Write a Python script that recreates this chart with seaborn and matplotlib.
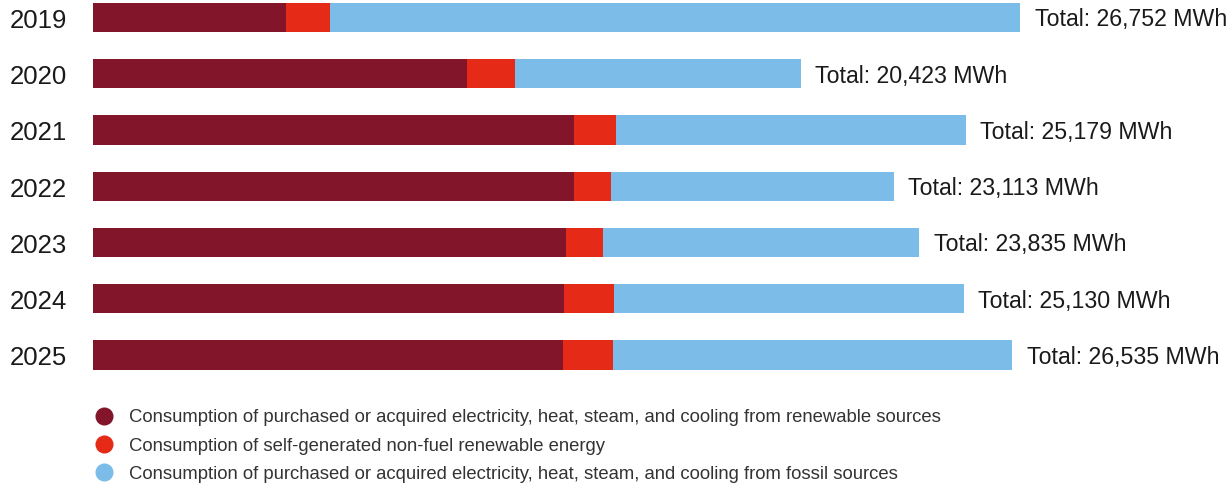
import matplotlib
matplotlib.use("Agg")
import matplotlib.pyplot as plt
from matplotlib.lines import Line2D
import seaborn as sns
import numpy as np
import pandas as pd

years = ["2019", "2020", "2021", "2022", "2023", "2024", "2025"]
renewable_purchased = [5570, 10793, 13881, 13881, 13650, 13592, 13563]
self_generated = [1270, 1385, 1212, 1068, 1068, 1443, 1443]
fossil_purchased = [19912, 8245, 10086, 8164, 9117, 10095, 11529]
totals = [26752, 20423, 25179, 23113, 23835, 25130, 26535]

legend_labels = [
    "Consumption of purchased or acquired electricity, heat, steam, and cooling from renewable sources",
    "Consumption of self-generated non-fuel renewable energy",
    "Consumption of purchased or acquired electricity, heat, steam, and cooling from fossil sources",
]

c_dark = "#83152B"
c_red = "#E52A17"
c_blue = "#7BBCE8"

sns.set_theme(style="white")
plt.rcParams["font.family"] = ["Liberation Sans", "DejaVu Sans"]

df = pd.DataFrame({
    "year": years,
    "renew": renewable_purchased,
    "self": self_generated,
    "fossil": fossil_purchased,
})
df["cum2"] = df["renew"] + df["self"]
df["cum3"] = df["cum2"] + df["fossil"]

fig = plt.figure(figsize=(12.31, 4.88), dpi=100)
W, H = 1231, 488
ax = fig.add_axes([93 / W, 1 - 373 / H, (W - 93) / W, 373 / H])

# stacked horizontal bars: cumulative totals drawn back to front
bw = 0.516
sns.barplot(data=df, x="cum3", y="year", orient="h", color=c_blue, width=bw,
            saturation=1, ax=ax)
sns.barplot(data=df, x="cum2", y="year", orient="h", color=c_red, width=bw,
            saturation=1, ax=ax)
sns.barplot(data=df, x="renew", y="year", orient="h", color=c_dark, width=bw,
            saturation=1, ax=ax)
for p in ax.patches:
    p.set_linewidth(0)

ax.set_xlim(0, 1138 / 0.034652)
ax.set_ylim(6.32, -0.311)
ax.set_xlabel("")
ax.set_ylabel("")
ax.set_xticks([])
ax.set_yticks([])
sns.despine(ax=ax, left=True, bottom=True, top=True, right=True)

for i, (yr, tot) in enumerate(zip(years, totals)):
    ax.annotate(f"Total: {tot:,} MWh", xy=(df["cum3"][i], i), xytext=(10.5, -6.4),
                textcoords="offset points", va="baseline", ha="left",
                fontsize=16.7, color="#1a1a1a")
    ax.annotate(yr, xy=(0, i), xytext=(-83 * 0.72, -7.4), textcoords="offset points",
                va="baseline", ha="left", fontsize=18.5, color="#1a1a1a",
                annotation_clip=False)

handles = [Line2D([0], [0], marker="o", linestyle="none", markersize=13,
                  markerfacecolor=c, markeredgewidth=0)
           for c in (c_dark, c_red, c_blue)]
fig.legend(handles, legend_labels, loc="upper left",
           bbox_to_anchor=(85 / W, 1 - 402 / H), frameon=False,
           fontsize=13.35, labelcolor="#333333", handletextpad=0.75,
           labelspacing=0.6, handlelength=1.2, borderaxespad=0)

fig.savefig("out.png", dpi=100)
